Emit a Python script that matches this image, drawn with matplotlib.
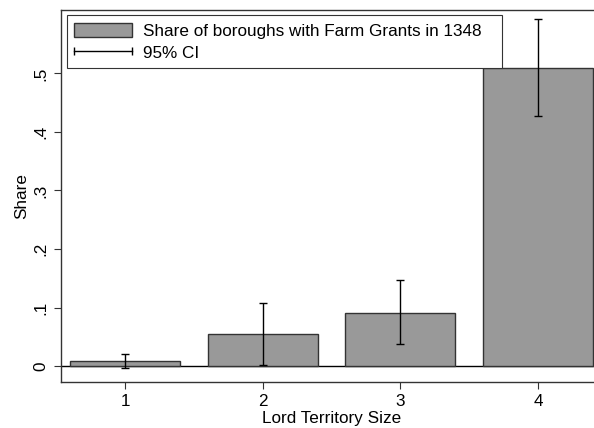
import matplotlib
matplotlib.use("Agg")
import matplotlib.pyplot as plt
from matplotlib.patches import Patch
from matplotlib.lines import Line2D
from matplotlib.legend_handler import HandlerLine2D

plt.rcParams['font.family'] = ['Liberation Sans', 'DejaVu Sans']

# data
sizes = [1, 2, 3, 4]
share = [0.008, 0.054, 0.091, 0.510]
ci_low = [-0.004, 0.002, 0.037, 0.428]
ci_high = [0.020, 0.108, 0.147, 0.593]
yticks = [0, 0.1, 0.2, 0.3, 0.4, 0.5]
ytick_labels = ["0", ".1", ".2", ".3", ".4", ".5"]

W, H = 594, 428
fig = plt.figure(figsize=(W / 100, H / 100), dpi=100)
# axes runs past the right edge of the figure, like the cropped original
left, bottom, top = 60.7, 381.7, 10.0
unit = 137.6
xlo, xhi = 0.531, 4.469
ax = fig.add_axes([left / W, (H - bottom) / H, (xhi - xlo) * unit / W, (bottom - top) / H])

bar_col = '#999999'
edge_col = '#333333'
ax.bar(sizes, share, width=0.8, color=bar_col, edgecolor=edge_col, linewidth=1.0, zorder=2)
ax.axhline(0, color='black', linewidth=1.0, zorder=1)

yerr = [[s - l for s, l in zip(share, ci_low)], [h - s for s, h in zip(share, ci_high)]]
ax.errorbar(sizes, share, yerr=yerr, fmt='none', ecolor='black', elinewidth=1.0,
            capsize=2.7, capthick=1.0, zorder=3)

ax.set_xlim(xlo, xhi)
ax.set_ylim(-0.0268, 0.6085)
ax.set_xticks(sizes)
ax.set_yticks(yticks)
ax.set_yticklabels(ytick_labels, rotation=90, va='center')
ax.tick_params(axis='both', labelsize=12.3, length=5, width=0.8, color='#333333', pad=4)
for sp in ax.spines.values():
    sp.set_linewidth(1.0)
    sp.set_color('#333333')

ax.set_xlabel("Lord Territory Size", fontsize=12.3, labelpad=1)
ax.set_ylabel("Share", fontsize=12.3, labelpad=3)

handles = [Patch(facecolor=bar_col, edgecolor=edge_col, linewidth=1.0),
           Line2D([0, 1], [0, 0], color='black', linewidth=1.0, marker='|',
                  markersize=6, markeredgewidth=1.0)]
labels = ["Share of boroughs with Farm Grants in 1348", "95% CI"]
leg = fig.legend(handles, labels, loc='upper left',
                 bbox_to_anchor=(66.7 / W, (H - 15) / H, (502.3 - 66.7) / W, 0.0),
                 mode='expand', fontsize=12.3, frameon=True, fancybox=False,
                 framealpha=1, edgecolor='#333333', borderpad=0.45,
                 handlelength=3.4, handleheight=0.9, handletextpad=0.6,
                 labelspacing=0.35, numpoints=2, borderaxespad=0,
                 handler_map={handles[1]: HandlerLine2D(marker_pad=0, numpoints=2)})
leg.get_frame().set_linewidth(0.8)

fig.savefig("out.png", dpi=100)
